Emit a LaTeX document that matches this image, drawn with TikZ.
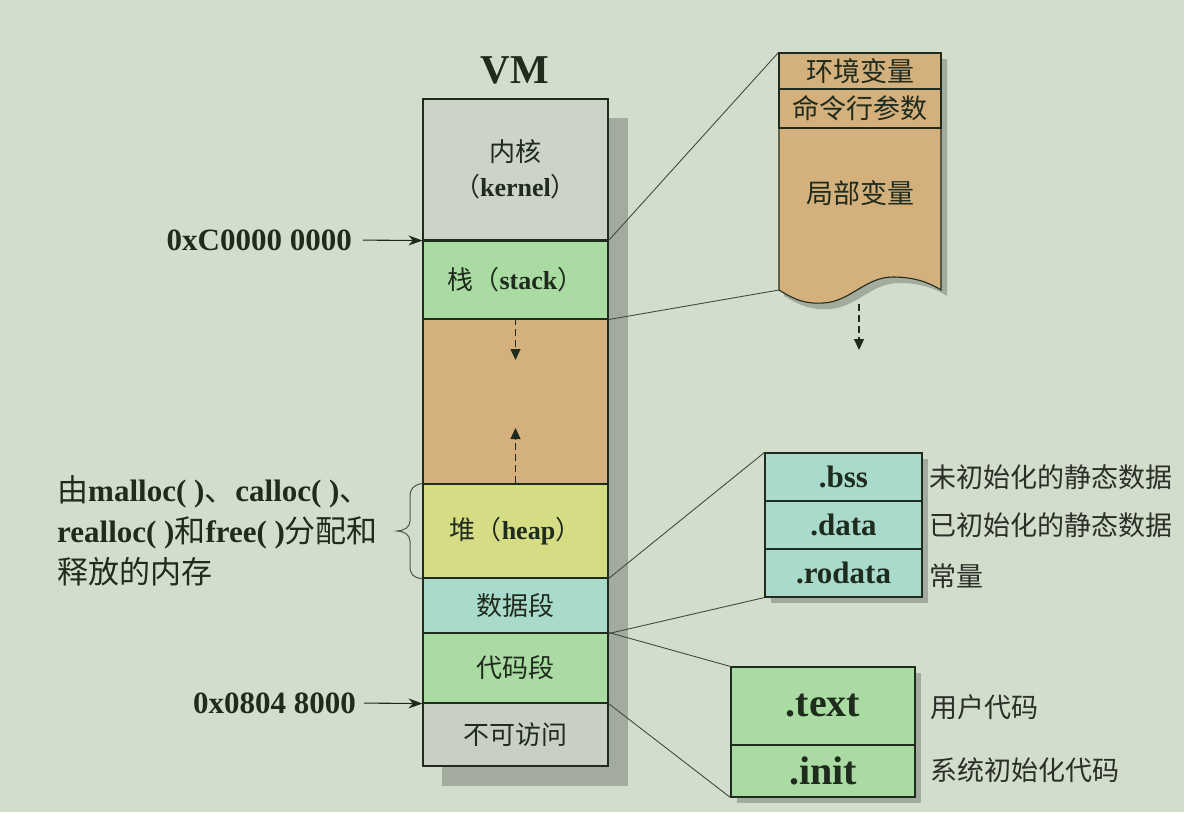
\documentclass[tikz,border=0pt]{standalone}
\usepackage{fontspec}
\setmainfont{Liberation Serif}
\newfontfamily\cjk{Noto Sans CJK SC}
\usetikzlibrary{arrows.meta}
\definecolor{bg}{HTML}{D3DDCB}
\definecolor{ink}{HTML}{1F2B1D}
\definecolor{kgray}{HTML}{CDD3C6}
\definecolor{sgreen}{HTML}{A9DBA2}
\definecolor{brown}{HTML}{D4B07C}
\definecolor{hyellow}{HTML}{D5DC84}
\definecolor{dteal}{HTML}{A9DACB}
\definecolor{ngray}{HTML}{C9CFC2}
\definecolor{shadowc}{HTML}{A2AB9D}
\definecolor{lbl}{HTML}{2A2F28}
\newcommand\segfnt{\fontsize{26}{33}\selectfont}
\newcommand\addrfnt{\fontsize{31}{31}\selectfont\bfseries}
\newcommand\sidefnt{\fontsize{27}{27}\selectfont}
\begin{document}
\begin{tikzpicture}[x=1pt,y=-1pt,
  seg/.style={draw=ink, line width=1.1pt, minimum width=185pt, inner sep=0pt, text=ink, font=\segfnt, align=center},
  sub/.style={draw=ink, line width=1.1pt, inner sep=0pt, text=ink},
  conn/.style={draw=ink!85, line width=0.9pt},
  addrarrow/.style={draw=ink, line width=1.1pt, -{Stealth[length=14pt,width=10pt]}},
  dasharrow/.style={draw=ink, line width=1.1pt, dash pattern=on 7pt off 4pt, -{Triangle[length=11pt,width=10pt]}},
  sidelbl/.style={anchor=west, inner sep=0pt, text=lbl, font=\sidefnt\cjk}]
\useasboundingbox (0,0) rectangle (1184,812);
\fill[bg] (0,0) rectangle (1184,812);

% title
\node[text=ink, font=\fontsize{41}{41}\selectfont\bfseries] (title) at (515,70) {VM};

% main column shadow
\fill[shadowc] (442,118) rectangle (628,786);

% main column
\node[seg, fill=kgray, minimum height=141pt] (kernel) at (515.5,169.5)
  {{\cjk 内核}\\[2pt]{\cjk （}\textbf{kernel}{\cjk ）}};
\node[seg, fill=sgreen, minimum height=79pt] (stack) at (515.5,279.5)
  {{\cjk 栈（}\textbf{stack}{\cjk ）}};
\node[seg, fill=brown, minimum height=165pt] (gap) at (515.5,401.5) {};
\node[seg, fill=hyellow, minimum height=94pt] (heap) at (515.5,531)
  {{\cjk 堆（}\textbf{heap}{\cjk ）}};
\node[seg, fill=dteal, minimum height=55pt] (data) at (515.5,605.5) {\cjk 数据段};
\node[seg, fill=sgreen, minimum height=70pt] (code) at (515.5,668) {\cjk 代码段};
\node[seg, fill=ngray, minimum height=63pt] (noacc) at (515.5,734.5) {\cjk 不可访问};
\draw[ink, line width=2.2pt] (kernel.south west) -- (kernel.south east);

% growth arrows
\coordinate (downend) at (515.5,360);
\coordinate (upend) at (515.5,428);
\draw[dasharrow] (gap.north) -- (downend);
\draw[dasharrow] (heap.north) -- (upend);

% address labels
\node[anchor=east, inner sep=0pt, text=ink, font=\addrfnt] (addrk) at (352,240) {0xC0000 0000};
\node[anchor=east, inner sep=0pt, text=ink, font=\addrfnt] (addrc) at (356,703) {0x0804 8000};
\draw[addrarrow, shorten <=11pt] (addrk.east) -- (kernel.south west);
\draw[addrarrow, shorten <=8pt] (addrc.east) -- (code.south west);

% brace and heap description
\draw[ink!80, line width=1pt] (heap.north west)
  .. controls (413,485) and (410,489) .. (410,497) -- (410,521)
  .. controls (410,527) and (404,531) .. (397,531)
  .. controls (404,531) and (410,535) .. (410,541) -- (410,566)
  .. controls (410,574) and (413,578) .. (heap.south west);
\node[anchor=west, inner sep=0pt, align=left, text=ink, font=\fontsize{31}{41}\selectfont] (heapdesc) at (57,531)
  {{\cjk 由}\textbf{malloc( )}{\cjk 、}\textbf{calloc( )}{\cjk 、}\\
   \textbf{realloc( )}{\cjk 和}\textbf{free( )}{\cjk 分配和}\\
   {\cjk 释放的内存}};

% stack detail
\fill[shadowc] (784,59) -- (947,59) -- (947,296)
  .. controls (936,289) and (921,283) .. (899,283)
  .. controls (871,283) and (856,308) .. (829,309)
  .. controls (811,310) and (801,306) .. (784,296) -- cycle;
\draw[ink, line width=1.1pt, fill=brown] (779,53) -- (941,53) -- (941,290)
  .. controls (930,283) and (915,277) .. (893,277)
  .. controls (865,277) and (850,302) .. (823,303)
  .. controls (805,304) and (795,300) .. (779,290) -- cycle;
\node[sub, fill=brown, minimum width=162pt, minimum height=36pt, font=\sidefnt\cjk] (env) at (860,71) {环境变量};
\node[sub, fill=brown, minimum width=162pt, minimum height=39pt, font=\sidefnt\cjk] (args) at (860,108.5) {命令行参数};
\node[inner sep=0pt, text=ink, font=\sidefnt\cjk] (locals) at (860,193) {局部变量};
\coordinate (wavel) at (779,290);
\coordinate (wavemid) at (859,304);
\coordinate (wavedown) at (859,350);
\draw[conn] (kernel.south east) -- (env.north west);
\draw[conn] (stack.south east) -- (wavel);
\draw[dasharrow] (wavemid) -- (wavedown);

% data detail
\fill[shadowc] (771,459) rectangle (928,603);
\node[sub, fill=dteal, minimum width=157pt, minimum height=48pt, font=\fontsize{31}{31}\selectfont\bfseries] (bss) at (843.5,477) {.bss};
\node[sub, fill=dteal, minimum width=157pt, minimum height=48pt, font=\fontsize{31}{31}\selectfont\bfseries] (ddata) at (843.5,525) {.data};
\node[sub, fill=dteal, minimum width=157pt, minimum height=48pt, font=\fontsize{31}{31}\selectfont\bfseries] (rodata) at (843.5,573) {.rodata};
\draw[conn] (heap.south east) -- (bss.north west);
\draw[conn] (data.south east) -- (rodata.south west);
\node[sidelbl] (lbss) at (929,477) {未初始化的静态数据};
\node[sidelbl] (ldata) at (929,525) {已初始化的静态数据};
\node[sidelbl] (lrodata) at (929,576) {常量};

% code detail
\fill[shadowc] (737,673) rectangle (921,803);
\node[sub, fill=sgreen, minimum width=184pt, minimum height=78pt, font=\fontsize{40}{40}\selectfont\bfseries] (text) at (823,706) {.text};
\node[sub, fill=sgreen, minimum width=184pt, minimum height=52pt, font=\fontsize{40}{40}\selectfont\bfseries] (init) at (823,771) {.init};
\draw[conn] (code.north east) -- (text.north west);
\draw[conn] (code.south east) -- (init.south west);
\node[sidelbl] (ltext) at (930,707) {用户代码};
\node[sidelbl] (linit) at (930,770) {系统初始化代码};
\end{tikzpicture}
\end{document}
